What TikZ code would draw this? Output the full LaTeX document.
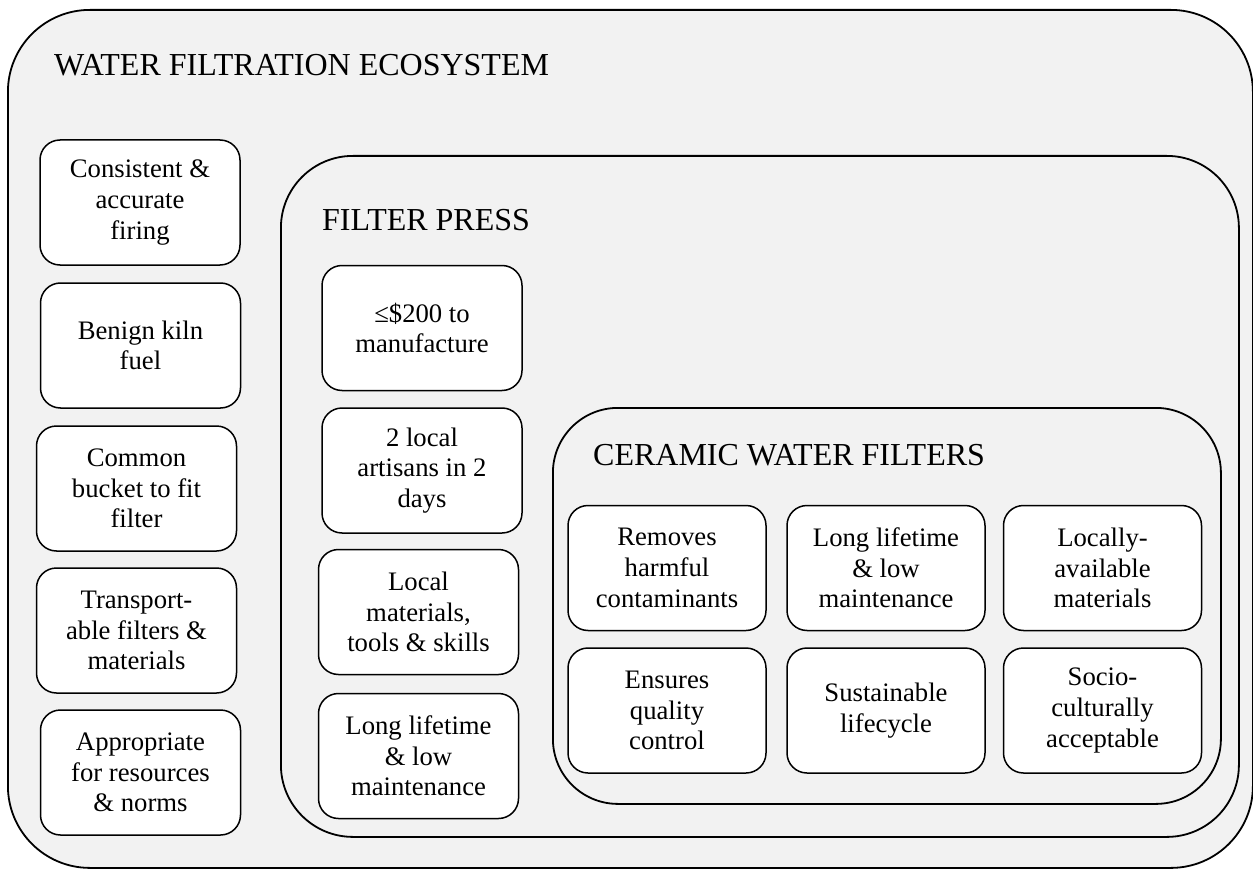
\documentclass[tikz,border=0pt]{standalone}
\usepackage{fontspec}
\setmainfont{Liberation Serif}
\usepackage{tikz}
\usetikzlibrary{positioning}
\definecolor{panelgray}{HTML}{F2F2F2}

\begin{document}
\begin{tikzpicture}[x=1pt,y=-1pt]
\useasboundingbox (0,0) rectangle (1253,869);
\tikzstyle{panel}=[draw, fill=panelgray, line width=1.8pt, inner sep=0pt, anchor=north west]
\tikzstyle{heading}=[anchor=base west, inner sep=0pt, font=\fontsize{32}{36}\selectfont]
\tikzstyle{req}=[draw, fill=white, line width=1.5pt, rounded corners=20pt, minimum width=200pt, minimum height=125pt, align=center, inner sep=0pt, font=\fontsize{26.7}{30.7}\selectfont]
% nested panels
\node[panel, rounded corners=82pt, minimum width=1245pt, minimum height=858pt] (eco) at (7,9) {};
\node[panel, rounded corners=72pt, minimum width=958pt, minimum height=681pt] (press) at (280,155) {};
\node[panel, rounded corners=65pt, minimum width=668pt, minimum height=396pt] (ceramic) at (552,407) {};
\node[heading] (ecotitle) at (54,76) {WATER FILTRATION ECOSYSTEM};
\node[heading] (presstitle) at (322,231) {FILTER PRESS};
\node[heading] (ceramictitle) at (593,465) {CERAMIC WATER FILTERS};
% ecosystem requirements
\node[req] (firing) at (140,202.5) {Consistent \&\\accurate\\firing};
\node[req] (fuel) at (140.5,345.5) {Benign kiln\\fuel};
\node[req] (bucket) at (136.5,488.5) {Common\\bucket to fit\\filter};
\node[req] (transport) at (136.5,630.5) {Transport-\\able filters \&\\materials};
\node[req] (norms) at (140.5,772.5) {Appropriate\\for resources\\\& norms};
% press requirements
\node[req] (cost) at (422,328) {≤\$200 to\\manufacture};
\node[req] (artisans) at (422,470.5) {2 local\\artisans in 2\\days};
\node[req] (tools) at (418.5,612) {Local\\materials,\\tools \& skills};
\node[req] (presslife) at (418.5,756) {Long lifetime\\\& low\\maintenance};
% filter requirements
\node[req, minimum width=198pt] (removes) at (667,568) {Removes\\harmful\\contaminants};
\node[req, minimum width=198pt] (filterlife) at (886,568) {Long lifetime\\\& low\\maintenance};
\node[req, minimum width=198pt] (available) at (1102.5,568) {Locally-\\available\\materials};
\node[req, minimum width=198pt] (quality) at (667,710.5) {Ensures\\quality\\control};
\node[req, minimum width=198pt] (lifecycle) at (886,710.5) {Sustainable\\lifecycle};
\node[req, minimum width=198pt] (accept) at (1102.5,710.5) {Socio-\\culturally\\acceptable};
\end{tikzpicture}
\end{document}
